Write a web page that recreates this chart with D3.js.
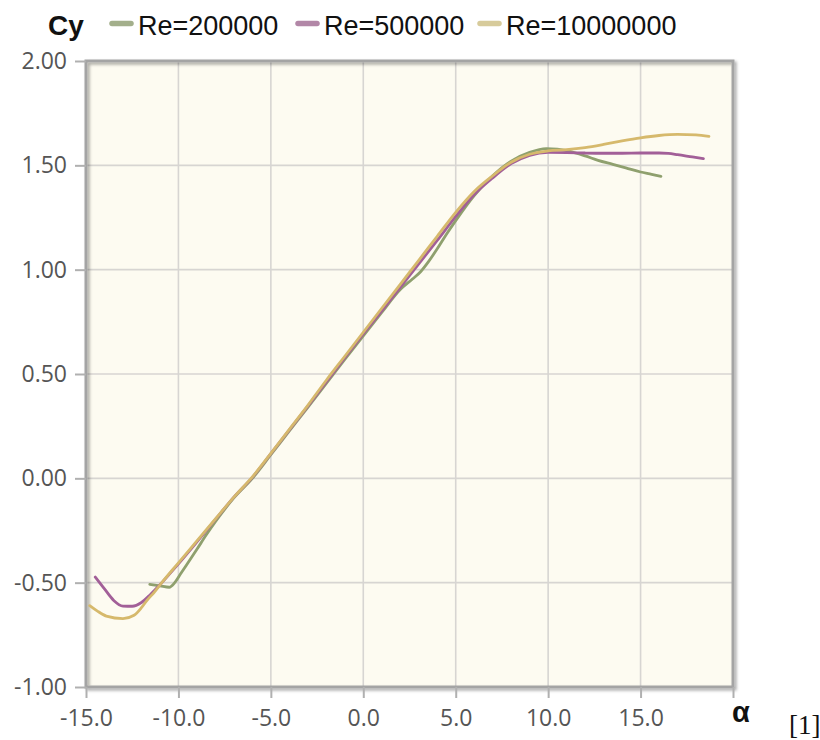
<!DOCTYPE html>
<html>
<head>
<meta charset="utf-8">
<script src="https://cdn.jsdelivr.net/npm/d3@7/dist/d3.min.js"></script>
<style>
  html, body { margin: 0; padding: 0; background: #ffffff; }
  svg { display: block; }
</style>
</head>
<body>
<svg id="chart" width="820" height="740"></svg>
<script>
// Lift coefficient Cy versus angle of attack α for three Reynolds numbers
const seriesNames = ["Re=200000", "Re=500000", "Re=10000000"];

const alphaRe200k = [-11.55, -11.0, -10.5, -10.2, -9.9, -9.0, -8.5, -8.0, -7.0, -6.0, -5.0, -4.0, -3.0, -2.0, -1.0, 0.0, 1.0, 2.0, 2.66, 3.1, 3.5, 4.0, 4.5, 5.0, 6.0, 7.0, 8.0, 9.0, 9.9, 10.5, 11.0, 12.0, 12.7, 13.5, 14.2, 15.0, 15.6, 16.1];
const cyRe200k    = [-0.508, -0.515, -0.522, -0.50, -0.46, -0.34, -0.272, -0.208, -0.094, 0.0, 0.113, 0.227, 0.34, 0.455, 0.57, 0.683, 0.795, 0.905, 0.955, 0.99, 1.035, 1.10, 1.17, 1.235, 1.355, 1.45, 1.52, 1.562, 1.58, 1.578, 1.57, 1.545, 1.524, 1.505, 1.488, 1.468, 1.457, 1.447];

const alphaRe500k = [-14.5, -14.0, -13.5, -13.0, -12.5, -12.0, -11.5, -11.0, -10.5, -10.0, -9.0, -8.0, -7.0, -6.0, -5.0, -4.0, -3.0, -2.0, -1.0, 0.0, 1.0, 2.0, 3.0, 4.0, 5.0, 6.0, 7.0, 8.0, 9.0, 10.0, 11.0, 12.0, 13.0, 14.0, 15.0, 16.0, 16.5, 17.0, 17.8, 18.4];
const cyRe500k    = [-0.473, -0.53, -0.585, -0.612, -0.613, -0.595, -0.555, -0.51, -0.46, -0.41, -0.305, -0.197, -0.09, 0.005, 0.118, 0.232, 0.346, 0.462, 0.578, 0.692, 0.803, 0.915, 1.028, 1.14, 1.255, 1.36, 1.44, 1.508, 1.548, 1.562, 1.561, 1.559, 1.558, 1.558, 1.559, 1.559, 1.557, 1.551, 1.54, 1.532];

const alphaRe10M  = [-14.8, -14.4, -13.9, -13.0, -12.4, -12.0, -11.7, -11.3, -10.9, -10.0, -9.0, -8.0, -7.0, -6.0, -5.0, -4.0, -3.0, -2.0, -1.0, 0.0, 1.0, 2.0, 3.0, 4.0, 5.0, 6.0, 7.0, 8.0, 9.0, 10.0, 11.0, 12.0, 13.0, 14.0, 15.0, 16.0, 17.0, 18.0, 18.7];
const cyRe10M     = [-0.61, -0.635, -0.66, -0.672, -0.656, -0.62, -0.585, -0.545, -0.50, -0.405, -0.30, -0.195, -0.09, 0.007, 0.12, 0.235, 0.35, 0.47, 0.585, 0.70, 0.815, 0.93, 1.045, 1.16, 1.275, 1.375, 1.45, 1.515, 1.553, 1.569, 1.575, 1.585, 1.60, 1.617, 1.632, 1.643, 1.648, 1.646, 1.639];

const xTicks = [-15, -10, -5, 0, 5, 10, 15];
const xTickLabels = ["-15.0", "-10.0", "-5.0", "0.0", "5.0", "10.0", "15.0"];
const yTicks = [-1.0, -0.5, 0.0, 0.5, 1.0, 1.5, 2.0];
const yTickLabels = ["-1.00", "-0.50", "0.00", "0.50", "1.00", "1.50", "2.00"];
const xDomain = [-15, 20];
const yDomain = [-1, 2];

const lineColors   = ["#8fa06e", "#a25f98", "#d6b96c"];
const legendColors = ["#a3af8b", "#b287a7", "#d7cb9b"];

const series = [
  { name: seriesNames[0], alpha: alphaRe200k, cy: cyRe200k },
  { name: seriesNames[1], alpha: alphaRe500k, cy: cyRe500k },
  { name: seriesNames[2], alpha: alphaRe10M,  cy: cyRe10M }
];

const svg = d3.select("#chart");
const plot = { left: 86, right: 733, top: 61, bottom: 687 };

const x = d3.scaleLinear().domain(xDomain).range([plot.left, plot.right]);
const y = d3.scaleLinear().domain(yDomain).range([plot.bottom, plot.top]);

const defs = svg.append("defs");
const shadow = defs.append("filter").attr("id", "frameShadow")
  .attr("x", "-5%").attr("y", "-5%").attr("width", "110%").attr("height", "110%");
shadow.append("feDropShadow")
  .attr("dx", 2).attr("dy", 2).attr("stdDeviation", 1.6)
  .attr("flood-color", "#000").attr("flood-opacity", 0.35);

// plot background
svg.append("rect")
  .attr("x", plot.left).attr("y", plot.top)
  .attr("width", plot.right - plot.left).attr("height", plot.bottom - plot.top)
  .attr("fill", "#fdfbf1");

// grid lines
const grid = svg.append("g").attr("stroke", "#d7d5d2").attr("stroke-width", 1.6);
grid.selectAll("line.vx").data(xTicks.filter(d => d > xDomain[0])).join("line")
  .attr("x1", d => x(d)).attr("x2", d => x(d))
  .attr("y1", plot.top).attr("y2", plot.bottom);
grid.selectAll("line.hy").data(yTicks.filter(d => d > yDomain[0] && d < yDomain[1])).join("line")
  .attr("x1", plot.left).attr("x2", plot.right)
  .attr("y1", d => y(d)).attr("y2", d => y(d));

// frame with soft shadow
svg.append("rect")
  .attr("x", plot.left).attr("y", plot.top)
  .attr("width", plot.right - plot.left).attr("height", plot.bottom - plot.top)
  .attr("fill", "none").attr("stroke", "#a4a4a4").attr("stroke-width", 3)
  .attr("filter", "url(#frameShadow)");

// axes
const tickFont = "'Open Sans', 'DejaVu Sans', sans-serif";
const xAxis = d3.axisBottom(x)
  .tickValues(xTicks.concat([xDomain[1]]))
  .tickSize(11).tickPadding(12)
  .tickFormat(d => {
    const i = xTicks.indexOf(d);
    return i >= 0 ? xTickLabels[i] : "";
  });
const gx = svg.append("g").attr("transform", `translate(0,${plot.bottom})`).call(xAxis);
gx.select(".domain").remove();
gx.selectAll(".tick line").attr("stroke", "#b0b0b0").attr("stroke-width", 2);
gx.selectAll(".tick text")
  .attr("fill", "#555").attr("font-family", tickFont).attr("font-size", 23);

const yAxis = d3.axisLeft(y)
  .tickValues(yTicks).tickSize(11).tickPadding(8)
  .tickFormat(d => yTickLabels[yTicks.indexOf(d)]);
const gy = svg.append("g").attr("transform", `translate(${plot.left},0)`).call(yAxis);
gy.select(".domain").remove();
gy.selectAll(".tick line").attr("stroke", "#b0b0b0").attr("stroke-width", 2);
gy.selectAll(".tick text")
  .attr("fill", "#555").attr("font-family", tickFont).attr("font-size", 23);

// curves
const line = d3.line()
  .x(d => x(d[0])).y(d => y(d[1]))
  .curve(d3.curveMonotoneX);

const clip = defs.append("clipPath").attr("id", "plotClip");
clip.append("rect").attr("x", plot.left).attr("y", plot.top)
  .attr("width", plot.right - plot.left).attr("height", plot.bottom - plot.top);

const curves = svg.append("g").attr("clip-path", "url(#plotClip)");
series.forEach((s, i) => {
  const pts = s.alpha.map((a, k) => [a, s.cy[k]]);
  curves.append("path")
    .attr("d", line(pts))
    .attr("fill", "none")
    .attr("stroke", lineColors[i])
    .attr("stroke-width", 2.8)
    .attr("stroke-linejoin", "round")
    .attr("stroke-linecap", "round");
});

// title and legend
const sans = "'Liberation Sans', Arial, sans-serif";
svg.append("text")
  .attr("x", 48).attr("y", 35)
  .attr("font-family", sans).attr("font-weight", "bold").attr("font-size", 28)
  .attr("fill", "#111").text("Cy");

const legendX = [110, 296, 478];
const legend = svg.append("g");
series.forEach((s, i) => {
  const g = legend.append("g").attr("transform", `translate(${legendX[i]},0)`);
  g.append("line")
    .attr("x1", 2).attr("x2", 21).attr("y1", 23.5).attr("y2", 23.5)
    .attr("stroke", legendColors[i]).attr("stroke-width", 5.5)
    .attr("stroke-linecap", "round");
  g.append("text")
    .attr("x", 28).attr("y", 35)
    .attr("font-family", sans).attr("font-size", 27)
    .attr("fill", "#111").text(s.name);
});

// axis name at the end of the α axis
svg.append("text")
  .attr("x", 741).attr("y", 722).attr("text-anchor", "middle")
  .attr("font-family", sans).attr("font-weight", "bold").attr("font-size", 29)
  .attr("fill", "#111").text("α");

// reference mark
svg.append("text")
  .attr("x", 789).attr("y", 734)
  .attr("font-family", "'Liberation Serif', 'Times New Roman', serif").attr("font-size", 27)
  .attr("fill", "#111").text("[1]");
</script>
</body>
</html>
